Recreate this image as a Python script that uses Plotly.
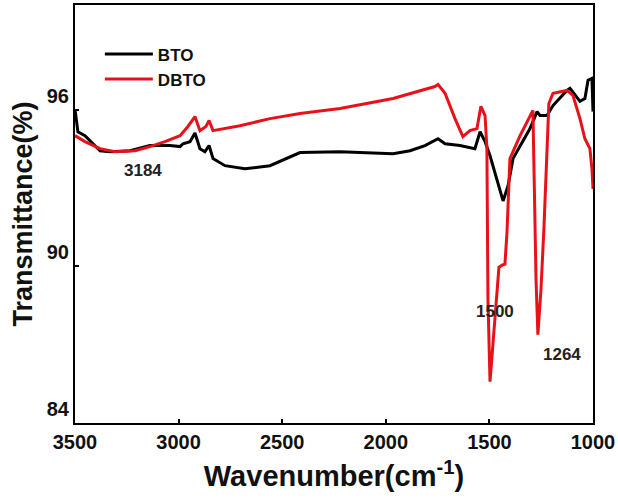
import plotly.graph_objects as go

# BTO spectrum (wavenumber cm^-1, transmittance %)
bto_x = [3500, 3486, 3452, 3379, 3331, 3235, 3138, 3042, 2993, 2979, 2945, 2921,
         2897, 2873, 2853, 2834, 2776, 2680, 2559, 2414, 2221, 1965, 1883, 1811,
         1748, 1714, 1642, 1570, 1545, 1521, 1497, 1434, 1410, 1386, 1304, 1270,
         1256, 1222, 1193, 1126, 1111, 1063, 1039, 1024, 1005, 1000]
bto_y = [96.0, 95.15, 95.0, 94.42, 94.38, 94.42, 94.62, 94.62, 94.58, 94.69, 94.77, 95.1,
         94.5, 94.38, 94.62, 94.12, 93.85, 93.73, 93.85, 94.35, 94.38, 94.31, 94.42, 94.62,
         94.88, 94.69, 94.62, 94.5, 95.15, 94.77, 94.23, 92.5, 93.08, 94.12, 95.27, 95.92,
         95.77, 95.77, 96.15, 96.73, 96.81, 96.31, 96.42, 97.12, 97.19, 95.92]

# DBTO spectrum
dbto_x = [3500, 3452, 3379, 3307, 3210, 3138, 3066, 2993, 2955, 2921, 2897, 2868,
          2853, 2834, 2704, 2559, 2414, 2221, 1965, 1763, 1748, 1714, 1666, 1628,
          1594, 1560, 1541, 1521, 1512, 1507, 1497, 1488, 1463, 1454, 1439, 1425,
          1415, 1410, 1401, 1352, 1304, 1290, 1285, 1275, 1266, 1251, 1237, 1222,
          1213, 1193, 1159, 1126, 1097, 1063, 1039, 1015, 1005, 1000]
dbto_y = [95.0, 94.77, 94.5, 94.38, 94.42, 94.58, 94.77, 95.0, 95.35, 95.73, 95.19, 95.35,
          95.58, 95.19, 95.38, 95.65, 95.85, 96.04, 96.42, 96.88, 96.96, 96.62, 95.65, 94.96,
          95.19, 95.27, 96.12, 95.77, 94.5, 88.73, 85.58, 86.5, 88.73, 89.96, 90.04, 90.08,
          91.31, 92.58, 94.12, 95.0, 95.77, 95.96, 93.8, 89.5, 87.38, 89.12, 91.42, 94.5,
          96.23, 96.62, 96.69, 96.73, 96.54, 95.65, 94.88, 94.5, 93.73, 92.96]

series_names = ["BTO", "DBTO"]
series_colors = ["#000000", "#e8111a"]

x_ticks = [3500, 3000, 2500, 2000, 1500, 1000]
y_ticks = [84, 90, 96]

peak_labels = ["3184", "1500", "1264"]
peak_x = [3172, 1473, 1150]
peak_y = [93.65, 88.27, 86.62]

FONT = "Liberation Sans, Arial, sans-serif"

fig = go.Figure()
for name, xs, ys, col in zip(series_names, [bto_x, dbto_x], [bto_y, dbto_y], series_colors):
    fig.add_trace(go.Scatter(x=xs, y=ys, mode="lines", name=name,
                             line=dict(color=col, width=3)))

for t, px, py in zip(peak_labels, peak_x, peak_y):
    fig.add_annotation(x=px, y=py, text=t, showarrow=False,
                       font=dict(family=FONT, size=17, color="#222", weight="bold"))

axis_common = dict(showline=True, linecolor="black", linewidth=2, mirror=True,
                   ticks="inside", ticklen=4, tickwidth=1.5, tickcolor="black",
                   showgrid=False, zeroline=False, automargin=False,
                   tickfont=dict(family=FONT, size=20, color="#111", weight="bold"))

fig.update_xaxes(range=[3500, 1000], tickvals=x_ticks,
                 title=dict(text="Wavenumber(cm<sup>-1</sup>)", standoff=14,
                            font=dict(family=FONT, size=29, color="#111", weight="bold")),
                 **axis_common)
fig.update_yaxes(range=[84, 100], tickvals=y_ticks, ticklabelshift=-14,
                 title=dict(text="Transmittance(%)", standoff=6,
                            font=dict(family=FONT, size=27, color="#111", weight="bold")),
                 **axis_common)

fig.update_layout(width=618, height=502,
                  margin=dict(l=75, r=25, t=5, b=79),
                  plot_bgcolor="white", paper_bgcolor="white",
                  showlegend=True,
                  legend=dict(x=0.048, y=0.925, xanchor="left", yanchor="top",
                              bgcolor="rgba(0,0,0,0)", itemwidth=48,
                              tracegroupgap=0,
                              font=dict(family=FONT, size=17, color="#111", weight="bold")))

fig.write_html("out.html", config={"displayModeBar": False},
               post_script="document.body.style.margin='0px';document.body.style.overflow='hidden';")
